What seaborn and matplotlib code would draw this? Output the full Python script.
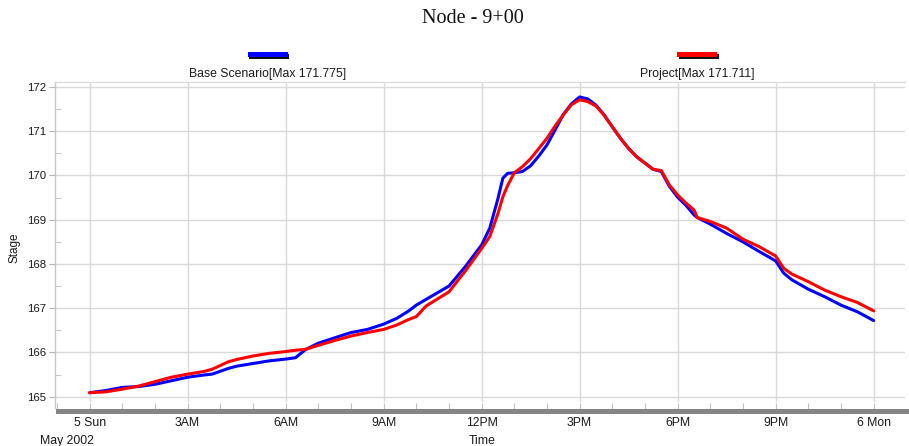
import matplotlib
matplotlib.use("Agg")
import matplotlib.pyplot as plt
import matplotlib.dates as mdates
from matplotlib.ticker import MultipleLocator
from matplotlib.patches import Rectangle
import seaborn as sns
import pandas as pd

# ---------------- data ----------------
start_time = "2002-05-05 00:00"
hours = [0, 0.5, 1, 1.5, 2, 2.5, 3, 3.5, 3.75, 4.25, 4.5, 5, 5.5, 6, 6.3, 6.6, 7, 7.5,
         8, 8.5, 9, 9.4, 9.75, 10, 10.3, 10.65, 11, 11.5, 12, 12.25, 12.5, 12.65,
         12.8, 13, 13.25, 13.5, 13.75, 14, 14.25, 14.5, 14.75, 15, 15.25, 15.5,
         15.75, 16, 16.25, 16.5, 16.75, 17, 17.25, 17.5, 17.75, 18, 18.25, 18.5,
         18.6, 19, 19.5, 20, 20.5, 21, 21.25, 21.5, 22, 22.5, 23, 23.5, 24]
base_stage = [165.09, 165.14, 165.21, 165.23, 165.28, 165.36, 165.44, 165.49, 165.51,
              165.64, 165.69, 165.75, 165.81, 165.85, 165.88, 166.06, 166.21, 166.33,
              166.45, 166.52, 166.64, 166.77, 166.93, 167.07, 167.20, 167.35, 167.50,
              167.94, 168.43, 168.81, 169.48, 169.94, 170.05, 170.06, 170.09, 170.22,
              170.44, 170.69, 171.03, 171.38, 171.62, 171.775, 171.73, 171.59, 171.37,
              171.10, 170.84, 170.61, 170.42, 170.28, 170.14, 170.09, 169.75, 169.51,
              169.33, 169.11, 169.05, 168.90, 168.69, 168.50, 168.28, 168.07, 167.79,
              167.64, 167.43, 167.26, 167.07, 166.92, 166.72]
project_stage = [165.09, 165.11, 165.17, 165.24, 165.34, 165.44, 165.51, 165.57, 165.62,
                 165.79, 165.84, 165.92, 165.98, 166.02, 166.05, 166.07, 166.16, 166.27,
                 166.37, 166.45, 166.52, 166.62, 166.74, 166.81, 167.05, 167.21, 167.37,
                 167.84, 168.35, 168.62, 169.14, 169.52, 169.78, 170.06, 170.20, 170.38,
                 170.61, 170.84, 171.12, 171.37, 171.60, 171.711, 171.67, 171.57, 171.36,
                 171.10, 170.84, 170.61, 170.42, 170.28, 170.14, 170.11, 169.78, 169.56,
                 169.38, 169.22, 169.05, 168.96, 168.81, 168.56, 168.39, 168.18, 167.90,
                 167.77, 167.60, 167.41, 167.26, 167.13, 166.94]
series_names = ["Base Scenario[Max 171.775]", "Project[Max 171.711]"]
series_colors = ["#0000ff", "#ff0000"]
tick_hours = [0, 3, 6, 9, 12, 15, 18, 21, 24]
tick_labels = ["5 Sun", "3AM", "6AM", "9AM", "12PM", "3PM", "6PM", "9PM", "6 Mon"]
y_ticks = [165, 166, 167, 168, 169, 170, 171, 172]
title_text = "Node - 9+00"

# ---------------- build frame ----------------
t0 = pd.Timestamp(start_time)
times = [t0 + pd.Timedelta(hours=h) for h in hours]
df = pd.concat([
    pd.DataFrame({"Time": times, "Stage": base_stage, "Series": series_names[0]}),
    pd.DataFrame({"Time": times, "Stage": project_stage, "Series": series_names[1]}),
], ignore_index=True)

sns.set_theme(style="white")
plt.rcParams["font.family"] = ["Liberation Sans", "DejaVu Sans"]

W, H = 909, 446
fig = plt.figure(figsize=(W / 100, H / 100), dpi=100)
ax = fig.add_axes([55 / W, 1 - 402 / H, 850 / W, 320 / H])

sns.lineplot(data=df, x="Time", y="Stage", hue="Series", hue_order=series_names,
             palette=dict(zip(series_names, series_colors)), linewidth=2.2,
             ax=ax, legend=False, sort=False, estimator=None,
             solid_joinstyle="round", solid_capstyle="round")

hr = pd.Timedelta(hours=1)
ax.set_xlim(t0 - 1.06 * hr, t0 + 24.96 * hr)
ax.set_ylim(164.88, 172.113)

ax.set_xticks([t0 + h * hr for h in tick_hours])
ax.set_xticklabels(tick_labels)
ax.xaxis.set_minor_locator(mdates.HourLocator())
ax.set_yticks(y_ticks)
ax.set_yticklabels([str(v) for v in y_ticks])
ax.yaxis.set_minor_locator(MultipleLocator(0.5))

ax.grid(True, which="major", color="#d9d9d9", linewidth=1.0)
ax.set_axisbelow(True)

ax.set_xlabel("")
ax.set_ylabel("")

# spines
ax.spines["right"].set_visible(False)
ax.spines["top"].set_color("#dcdcdc")
ax.spines["top"].set_linewidth(1.0)
ax.spines["left"].set_color("#c8c8c8")
ax.spines["left"].set_linewidth(1.0)
ax.spines["left"].set_bounds(164.745, 172.113)
ax.spines["bottom"].set_color("#858585")
ax.spines["bottom"].set_linewidth(3.6)
ax.spines["bottom"].set_position(("outward", 6.3))
ax.spines["bottom"].set_bounds(mdates.date2num(t0 - 0.97 * hr), mdates.date2num(t0 + 25.1 * hr))

ax.tick_params(axis="y", which="major", direction="out", length=4.3, width=0.8,
               color="#b5b5b5", labelsize=8.2, pad=2.2, labelcolor="#1a1a1a", left=True)
ax.tick_params(axis="y", which="minor", direction="in", length=4.3, width=0.8,
               color="#c8c8c8", left=True)
ax.tick_params(axis="x", which="both", direction="in", length=5.8, width=0.8,
               color="#c0c0c0", bottom=True)
ax.tick_params(axis="x", which="major", labelsize=8.8, pad=4.5, labelcolor="#1a1a1a")

# texts
fig.text(473 / W, 1 - 22.7 / H, title_text, family=["Liberation Serif", "DejaVu Serif"],
         fontsize=14.5, ha="center", va="baseline", color="#111111")
fig.text(15 / W, 1 - 248 / H, "Stage", rotation=90, fontsize=8.5, ha="center",
         va="center", color="#1a1a1a")
fig.text(67 / W, 1 - 444 / H, "May 2002", fontsize=8.8, ha="center", va="baseline",
         color="#1a1a1a")
fig.text(482 / W, 1 - 444 / H, "Time", fontsize=8.8, ha="center", va="baseline",
         color="#1a1a1a")

# legend (marker bar above centered text)
for cx, name, col in zip([267.5, 697.0], series_names, series_colors):
    rw, rh = 40, 4.8
    x0, ytop = cx - rw / 2, 52.5
    fig.patches.append(Rectangle(((x0 + 1.5) / W, 1 - (ytop + rh + 1.5) / H), rw / W, rh / H,
                                 transform=fig.transFigure, facecolor="#111111",
                                 edgecolor="none", zorder=1))
    fig.patches.append(Rectangle((x0 / W, 1 - (ytop + rh) / H), rw / W, rh / H,
                                 transform=fig.transFigure, facecolor=col,
                                 edgecolor="none", zorder=2))
    fig.text(cx / W, 1 - 76.7 / H, name, fontsize=8.8, ha="center", va="baseline",
             color="#1a1a1a")

fig.savefig("out.png", dpi=100, facecolor="white")
